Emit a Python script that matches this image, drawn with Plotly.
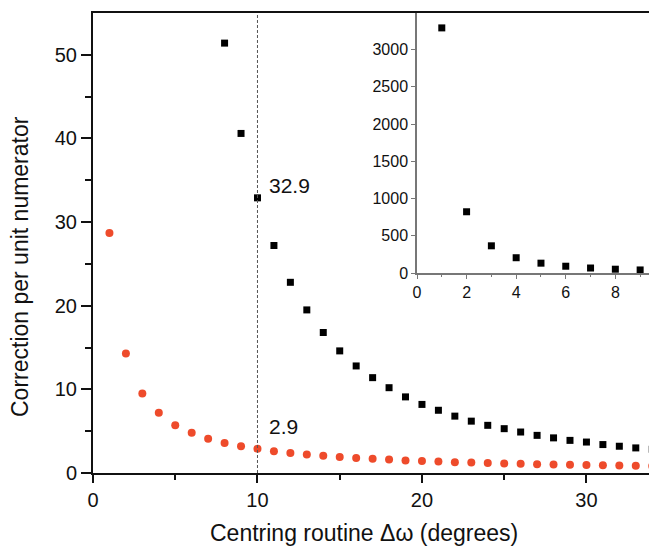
import plotly.graph_objects as go

# Main chart data
x_sq = list(range(8, 35))
y_sq = [51.4, 40.6, 32.9, 27.2, 22.8, 19.5, 16.8, 14.6, 12.8, 11.4, 10.2, 9.1, 8.2,
        7.5, 6.8, 6.2, 5.7, 5.3, 4.9, 4.5, 4.2, 3.9, 3.7, 3.4, 3.2, 3.0, 2.85]
x_ci = list(range(1, 35))
y_ci = [28.7, 14.3, 9.5, 7.2, 5.7, 4.8, 4.1, 3.6, 3.2, 2.9, 2.6, 2.4, 2.2, 2.05, 1.9,
        1.8, 1.7, 1.6, 1.5, 1.43, 1.37, 1.3, 1.25, 1.2, 1.15, 1.1, 1.06, 1.02, 0.99,
        0.96, 0.93, 0.9, 0.87, 0.84]

# Inset data
x_in = [1, 2, 3, 4, 5, 6, 7, 8, 9]
y_in = [3290, 822, 365, 205, 132, 91, 67, 51, 41]

FONT = "Liberation Sans, Arial, sans-serif"
TXT = "#111111"

fig = go.Figure()
fig.add_trace(go.Scatter(x=x_ci, y=y_ci, mode="markers",
                         marker=dict(symbol="circle", size=8, color="#ee4b2b"),
                         showlegend=False, cliponaxis=False))
fig.add_trace(go.Scatter(x=x_sq, y=y_sq, mode="markers",
                         marker=dict(symbol="square", size=7, color="#000000"),
                         showlegend=False, cliponaxis=False))
fig.add_trace(go.Scatter(x=x_in, y=y_in, mode="markers", xaxis="x2", yaxis="y2",
                         marker=dict(symbol="square", size=7, color="#000000"),
                         showlegend=False, cliponaxis=False))

fig.add_shape(type="line", x0=10, x1=10, y0=0, y1=55, xref="x", yref="y",
              line=dict(color="#555555", width=1, dash="3px,2px"))

fig.add_annotation(x=10.6, y=34.4, xref="x", yref="y", text="32.9", showarrow=False,
                   xanchor="left", yanchor="middle", font=dict(size=21, color=TXT, family=FONT))
fig.add_annotation(x=10.6, y=5.6, xref="x", yref="y", text="2.9", showarrow=False,
                   xanchor="left", yanchor="middle", font=dict(size=21, color=TXT, family=FONT))

fig.add_annotation(x=(364 - 93) / 564, y=(473 - 533) / 460, xref="paper", yref="paper",
                   text="Centring routine Δω (degrees)", showarrow=False,
                   xanchor="center", yanchor="middle", font=dict(size=23, color=TXT, family=FONT))
fig.add_annotation(x=(20 - 93) / 564, y=(473 - 267) / 460, xref="paper", yref="paper",
                   text="Correction per unit numerator", showarrow=False, textangle=-90,
                   xanchor="center", yanchor="middle", font=dict(size=23, color=TXT, family=FONT))

# Page body has an 8px margin, so the figure is offset by (8, 8) in the window
fig.update_layout(
    width=649, height=544,
    margin=dict(l=85, r=0, t=5, b=79),
    paper_bgcolor="white", plot_bgcolor="white",
    font=dict(family=FONT, size=20, color=TXT),
    xaxis=dict(range=[0, 34.29], tickvals=[0, 10, 20, 30], ticks="outside", ticklen=8,
               tickwidth=2, tickcolor=TXT, showline=True, linecolor=TXT, linewidth=2,
               mirror=True, showgrid=False, zeroline=False,
               minor=dict(tickvals=[5, 15, 25], ticks="outside", ticklen=5, tickwidth=2, tickcolor=TXT),
               tickfont=dict(size=20)),
    yaxis=dict(range=[0, 55], tickvals=[0, 10, 20, 30, 40, 50], ticks="outside", ticklen=10,
               tickwidth=2, tickcolor=TXT, showline=True, linecolor=TXT, linewidth=2,
               showgrid=False, zeroline=False,
               minor=dict(tickvals=[5, 15, 25, 35, 45], ticks="outside", ticklen=6, tickwidth=2, tickcolor=TXT),
               tickfont=dict(size=20)),
    xaxis2=dict(domain=[(417 - 93) / 564, 1], anchor="y2", range=[0, 9.68],
                tickvals=[0, 2, 4, 6, 8], ticks="outside", ticklen=4, tickwidth=1,
                tickcolor="#777", showline=True, linecolor="#777", linewidth=1.5,
                showgrid=False, zeroline=False, tickfont=dict(size=16, color=TXT),
                minor=dict(tickvals=[1, 3, 5, 7, 9], ticks="outside", ticklen=2, tickwidth=1, tickcolor="#777")),
    yaxis2=dict(domain=[(473 - 273) / 460, 1], anchor="x2", range=[0, 3490],
                tickvals=[0, 500, 1000, 1500, 2000, 2500, 3000], ticks="outside", ticklen=4,
                tickwidth=1, tickcolor="#777", showline=True, linecolor="#777", linewidth=1.5,
                showgrid=False, zeroline=False, tickfont=dict(size=16, color=TXT)),
)

fig.write_html("out.html")
